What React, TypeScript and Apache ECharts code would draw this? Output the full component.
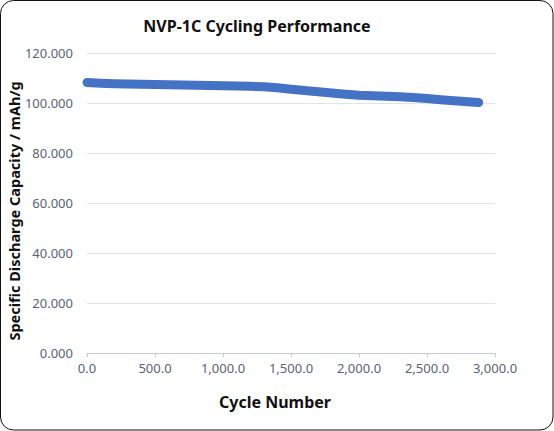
import React, { useEffect, useRef } from "react";
import * as echarts from "echarts";

// Cycle number vs. specific discharge capacity (mAh/g)
const cycles = [
  0, 100, 200, 300, 400, 500, 600, 700, 800, 900, 1000, 1100, 1200, 1300, 1400,
  1500, 1600, 1700, 1800, 1900, 2000, 2100, 2200, 2300, 2400, 2500, 2600, 2700,
  2800, 2880,
];
const capacity = [
  108.2, 107.9, 107.7, 107.6, 107.5, 107.4, 107.3, 107.2, 107.1, 107.0, 106.9,
  106.8, 106.7, 106.5, 106.1, 105.5, 105.0, 104.5, 104.0, 103.5, 103.1, 102.9,
  102.7, 102.5, 102.2, 101.8, 101.3, 100.9, 100.5, 100.2,
];

const titleText = "NVP-1C Cycling Performance";
const xAxisTitle = "Cycle Number";
const yAxisTitle = "Specific Discharge Capacity / mAh/g";

const W = 554;
const H = 431;
const FONT = "'Noto Sans', 'Open Sans', sans-serif";
const LABEL_COLOR = "#596275";
const TITLE_COLOR = "#111111";

export default function App() {
  const ref = useRef<HTMLDivElement>(null);

  useEffect(() => {
    if (!ref.current) return;
    const chart = echarts.init(ref.current, undefined, { renderer: "svg" });
    const fmtX = (v: number) =>
      v.toLocaleString("en-US", { minimumFractionDigits: 1, maximumFractionDigits: 1 });
    chart.setOption({
      animation: false,
      backgroundColor: "#ffffff",
      title: {
        text: titleText,
        left: 252,
        textAlign: "center",
        top: 13,
        textStyle: { fontFamily: FONT, fontSize: 16, fontWeight: "bold", color: TITLE_COLOR },
      },
      graphic: [
        {
          type: "rect",
          shape: { x: 0.5, y: 0.5, width: W - 1.5, height: H - 1.5, r: 13 },
          style: { fill: "none", stroke: "#111111", lineWidth: 1 },
          silent: true,
          z: 100,
        },
        {
          // vertical axis title
          type: "text",
          x: 14,
          y: 211,
          rotation: Math.PI / 2,
          style: {
            text: yAxisTitle,
            fontFamily: FONT,
            fontSize: 14.5,
            fontWeight: "bold",
            fill: TITLE_COLOR,
            align: "center",
            verticalAlign: "middle",
          },
        },
        {
          // horizontal axis title
          type: "text",
          x: 275,
          y: 402,
          style: {
            text: xAxisTitle,
            fontFamily: FONT,
            fontSize: 16,
            fontWeight: "bold",
            fill: TITLE_COLOR,
            align: "center",
            verticalAlign: "middle",
          },
        },
      ],
      grid: {
        left: 87,
        right: W - 495,
        top: 53,
        bottom: H - 353,
        containLabel: false,
        outerBoundsMode: "none",
      },
      xAxis: {
        type: "value",
        min: 0,
        max: 3000,
        interval: 500,
        axisLine: { show: true, lineStyle: { color: "#c3cad6", width: 1 } },
        axisTick: { show: true, length: 4, lineStyle: { color: "#c3cad6" } },
        axisLabel: {
          fontFamily: FONT,
          fontSize: 13,
          color: LABEL_COLOR,
          margin: 8,
          formatter: (v: number) => fmtX(v),
        },
        splitLine: { show: false },
      },
      yAxis: {
        type: "value",
        min: 0,
        max: 120,
        interval: 20,
        axisLine: { show: false },
        axisTick: { show: false },
        axisLabel: {
          fontFamily: FONT,
          fontSize: 13,
          color: LABEL_COLOR,
          margin: 14,
          formatter: (v: number) => v.toFixed(3),
        },
        splitLine: { show: true, lineStyle: { color: "#dfe3ea", width: 1 } },
      },
      series: [
        {
          type: "line",
          data: cycles.map((c, i) => [c, capacity[i]]),
          showSymbol: false,
          symbol: "none",
          lineStyle: { color: "#4472c4", width: 9, cap: "round", join: "round" },
        },
      ],
    });
    return () => chart.dispose();
  }, []);

  return (
    <div
      ref={ref}
      style={{ position: "absolute", left: 0, top: 0, width: W, height: H }}
    />
  );
}
